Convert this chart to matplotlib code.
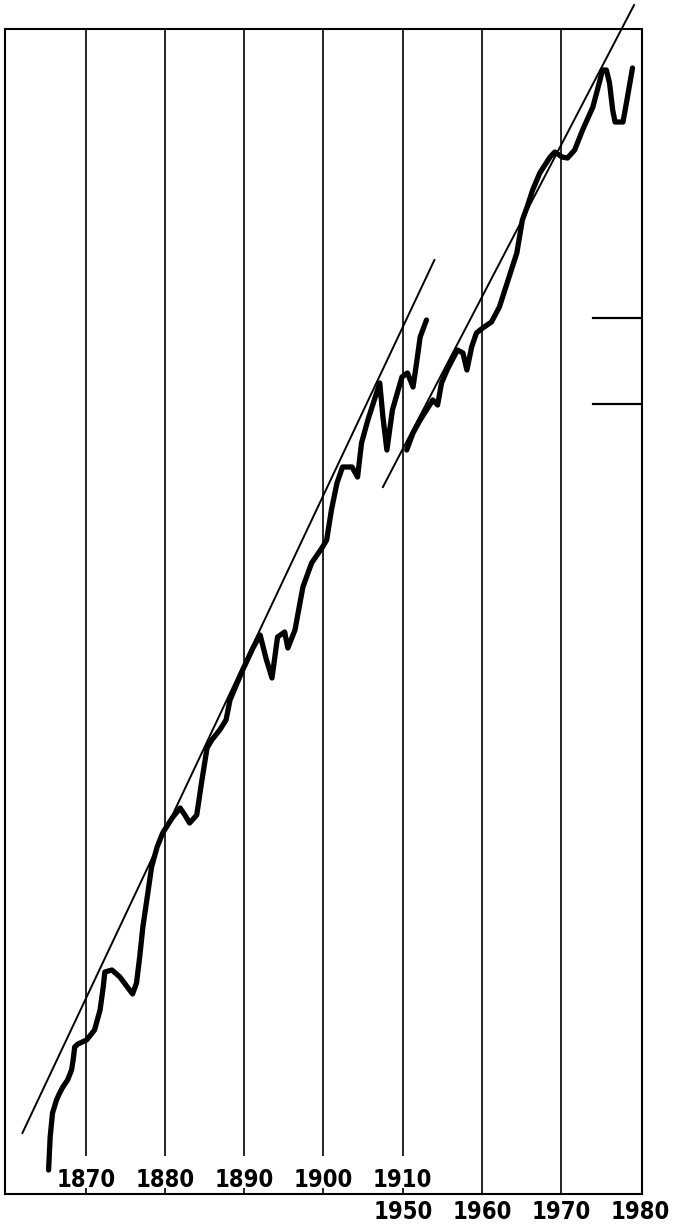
import matplotlib.pyplot as plt

# first series, read against the upper year scale (1870-1910)
years_a = [1865.3, 1865.5, 1865.8, 1866.3, 1866.7, 1867.1, 1867.7, 1868.2, 1868.4, 1868.6,
           1869.0, 1870.1, 1871.1, 1871.8, 1872.2, 1872.4, 1873.3, 1874.3, 1875.9, 1876.4,
           1876.8, 1877.2, 1877.7, 1878.3, 1879.0, 1879.7, 1880.9, 1881.9, 1882.5, 1883.1,
           1884.0, 1884.6, 1885.3, 1885.9, 1886.9, 1887.7, 1888.2, 1889.8, 1891.1, 1892.0,
           1892.8, 1893.5, 1894.2, 1895.1, 1895.5, 1896.4, 1897.4, 1898.5, 1899.8, 1900.4,
           1901.0, 1901.7, 1902.4, 1903.6, 1904.3, 1904.8, 1905.6, 1907.1, 1907.5, 1908.0,
           1908.7, 1909.9, 1910.6, 1911.3, 1911.8, 1912.2, 1913.0]
values_a = [2.4, 5.7, 8.1, 9.4, 10.1, 10.7, 11.4, 12.4, 13.4, 14.7,
            15.0, 15.4, 16.4, 18.4, 20.7, 22.2, 22.4, 21.7, 20.0, 21.1,
            23.7, 26.7, 29.4, 32.7, 34.7, 36.1, 37.6, 38.6, 37.9, 37.1,
            37.9, 41.1, 44.6, 45.4, 46.4, 47.4, 49.4, 52.4, 54.6, 55.9,
            53.4, 51.6, 55.7, 56.2, 54.6, 56.4, 60.7, 63.1, 64.6, 65.4,
            68.4, 71.1, 72.7, 72.7, 71.7, 75.1, 77.4, 81.1, 77.7, 74.4,
            78.4, 81.7, 82.1, 80.7, 83.4, 85.7, 87.4]

# second series, read against the lower year scale (1950-1980)
years_b = [1950.5, 1951.3, 1952.2, 1953.4, 1953.8, 1954.4, 1954.9, 1955.6, 1956.9, 1957.6,
           1958.1, 1958.7, 1959.3, 1960.1, 1961.2, 1962.2, 1963.3, 1964.4, 1965.1, 1965.7,
           1966.4, 1967.3, 1968.6, 1969.2, 1970.1, 1970.8, 1971.7, 1972.7, 1974.0, 1974.9,
           1975.2, 1975.7, 1976.1, 1976.5, 1976.8, 1977.8, 1978.3, 1979.0]
values_b = [74.4, 76.1, 77.4, 78.9, 79.4, 78.9, 81.1, 82.4, 84.4, 84.1,
            82.4, 84.7, 86.1, 86.6, 87.2, 88.7, 91.4, 94.1, 97.4, 98.7,
            100.4, 102.1, 103.7, 104.2, 103.7, 103.6, 104.4, 106.4, 108.7, 111.4,
            112.4, 112.4, 111.1, 108.4, 107.2, 107.2, 109.4, 112.6]

# straight trend lines
trend_a_years = [1862.0, 1914.0]
trend_a_values = [6.1, 93.4]
trend_b_years = [1947.5, 1979.2]
trend_b_values = [70.7, 118.9]

upper_ticks = [1870, 1880, 1890, 1900, 1910]
lower_ticks = [1950, 1960, 1970, 1980]
full_grid = [1920, 1930]
scale_marks = [87.6, 79.0]

# labels in the original are a narrow, fairly heavy sans
plt.rcParams["font.family"] = ["DejaVu Sans"]
plt.rcParams["font.stretch"] = "condensed"
plt.rcParams["font.weight"] = "bold"

fig = plt.figure(figsize=(6.74, 12.29), dpi=100)
ax = fig.add_axes([5 / 674, 35 / 1229, 637 / 674, 1165 / 1229])
ax.set_xlim(1859.8, 1940.2)
ax.set_ylim(0, 116.5)
ax.set_yticks([])

for s in ax.spines.values():
    s.set_linewidth(1.5)

ax.vlines(upper_ticks, 3.8, 116.5, color="black", lw=1.2)
ax.vlines(full_grid, 0, 116.5, color="black", lw=1.2)
for m in scale_marks:
    ax.axhline(m, xmin=(593 - 5) / 637, xmax=1, color="black", lw=1.6)

ax.plot(trend_a_years, trend_a_values, color="black", lw=1.4, clip_on=False)
ax.plot(years_a, values_a, color="black", lw=3.8,
        solid_joinstyle="round", solid_capstyle="round")

ax.set_xticks(upper_ticks, [str(y) for y in upper_ticks])
ax.tick_params(axis="x", direction="in", length=4.5, width=1.2,
               pad=-18.7, labelsize=17)

ax2 = ax.twiny()
ax2.set_xlim(1899.8, 1980.2)
for s in ax2.spines.values():
    s.set_visible(False)
ax2.xaxis.tick_bottom()
ax2.set_xticks(lower_ticks, [str(y) for y in lower_ticks])
ax2.tick_params(axis="x", length=0, pad=4, labelsize=17)

ax2.plot(trend_b_years, trend_b_values, color="black", lw=1.4, clip_on=False)
ax2.plot(years_b, values_b, color="black", lw=3.8,
         solid_joinstyle="round", solid_capstyle="round")

fig.savefig("out.png", dpi=100)
